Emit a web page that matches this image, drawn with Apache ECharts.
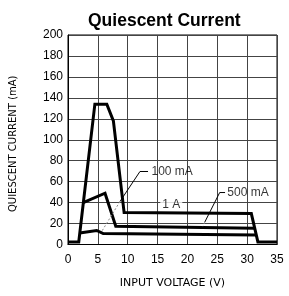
<!DOCTYPE html>
<html lang="en">

<head>
  <meta charset="UTF-8">
  <title>Quiescent Current</title>
  <style media="screen">
    html, body { margin: 0; padding: 0; background: #fff; }
  </style>
</head>

<body>
  <div id="main" style="width:289px;height:296px;"></div>
</body>
<script src="https://cdn.jsdelivr.net/npm/echarts@6.0.0/dist/echarts.min.js"></script>

<script>
  // curves (input voltage V, quiescent current mA)
  var volt1A = [0, 1.8, 4.5, 6.5, 7.6, 9.4, 30.7, 31.8, 35];
  var curr1A = [2.5, 2.5, 134, 134, 118, 30.5, 29.5, 2.5, 2.5];

  var volt500 = [2.55, 6.2, 8.0, 31.25];
  var curr500 = [40, 49, 17.5, 15.5];

  var volt100 = [1.95, 4.8, 5.9, 31.5];
  var curr100 = [11, 13.4, 10.5, 9];

  // callouts
  var noteText = ['100 mA', '500 mA', '1 A'];
  var noteV = [13.9, 26.6, 17.3];
  var noteI = [69.7, 49.6, 38.4];

  var lead100V = [13.4, 12.05, 8.7];
  var lead100I = [69.7, 69.7, 41];
  var lead100TailV = [8.7, 5.6];
  var lead100TailI = [41, 12];
  var lead500V = [26.3, 25.4, 22.9];
  var lead500I = [49.6, 49.6, 21.3];
  var lead500TailV = [22.9, 22.6];
  var lead500TailI = [21.3, 17.4];

  var xTicks = [0, 5, 10, 15, 20, 25, 30, 35];

  function pairs(xs, ys) {
    return xs.map(function (x, i) { return [x, ys[i]]; });
  }

  function curve(xs, ys) {
    return {
      type: 'line',
      data: pairs(xs, ys),
      symbol: 'none',
      z: 5,
      lineStyle: { color: '#000', width: 3, join: 'miter' }
    };
  }

  function leader(xs, ys, color, type) {
    return {
      type: 'line',
      data: pairs(xs, ys),
      symbol: 'none',
      z: 6,
      lineStyle: { color: color, width: 1, type: type }
    };
  }

  var myChart = echarts.init(document.getElementById('main'));

  myChart.setOption({
    animation: false,
    backgroundColor: '#fff',
    title: {
      text: 'Quiescent Current',
      left: 83,
      top: 7,
      textStyle: {
        fontFamily: 'Liberation Sans',
        fontSize: 17.5,
        fontWeight: 'bold',
        color: '#000'
      }
    },
    grid: {
      left: 68,
      right: 12,
      top: 35,
      bottom: 51.5,
      show: true,
      borderColor: '#000',
      borderWidth: 1
    },
    xAxis: {
      type: 'value',
      min: 0,
      max: 35,
      interval: 5,
      name: 'INPUT VOLTAGE (V)',
      nameLocation: 'middle',
      nameGap: 33,
      nameTextStyle: { fontFamily: 'DejaVu Sans', fontSize: 11, color: '#000' },
      axisLine: { show: true, lineStyle: { color: '#000', width: 1 } },
      axisTick: { show: false },
      axisLabel: {
        margin: 9,
        fontFamily: 'Liberation Sans',
        fontSize: 12,
        color: '#000',
        formatter: function (v) { return xTicks.indexOf(v) >= 0 ? String(v) : ''; }
      },
      splitLine: { show: true, lineStyle: { color: '#444', width: 1 } }
    },
    yAxis: {
      type: 'value',
      min: 0,
      max: 200,
      interval: 20,
      name: 'QUIESCENT CURRENT (mA)',
      nameLocation: 'middle',
      nameGap: 50,
      nameTextStyle: {
        fontFamily: 'DejaVu Sans',
        fontSize: 10,
        color: '#000',
        padding: [0, 8, 0, 0]
      },
      axisLine: { show: true, lineStyle: { color: '#000', width: 1 } },
      axisTick: { show: false },
      axisLabel: {
        margin: 5,
        fontFamily: 'Liberation Sans',
        fontSize: 12,
        color: '#000'
      },
      splitLine: { show: true, lineStyle: { color: '#444', width: 1 } }
    },
    series: [
      curve(volt1A, curr1A),
      curve(volt500, curr500),
      curve(volt100, curr100),
      leader(lead100V, lead100I, '#000', 'solid'),
      leader(lead100TailV, lead100TailI, '#888', [2, 2]),
      leader(lead500V, lead500I, '#000', 'solid'),
      leader(lead500TailV, lead500TailI, '#888', [2, 2]),
      {
        type: 'scatter',
        symbolSize: 1,
        z: 7,
        itemStyle: { color: 'rgba(0,0,0,0)' },
        data: noteText.map(function (t, i) {
          var centred = i === 2;
          return {
            value: [noteV[i], noteI[i]],
            label: {
              show: true,
              formatter: t,
              position: centred ? 'inside' : 'right',
              distance: 0,
              fontFamily: 'Liberation Sans',
              fontSize: 12,
              color: '#000',
              backgroundColor: centred ? '#fff' : 'transparent',
              padding: centred ? [0, 2] : 0
            }
          };
        })
      }
    ]
  });
</script>

</html>
